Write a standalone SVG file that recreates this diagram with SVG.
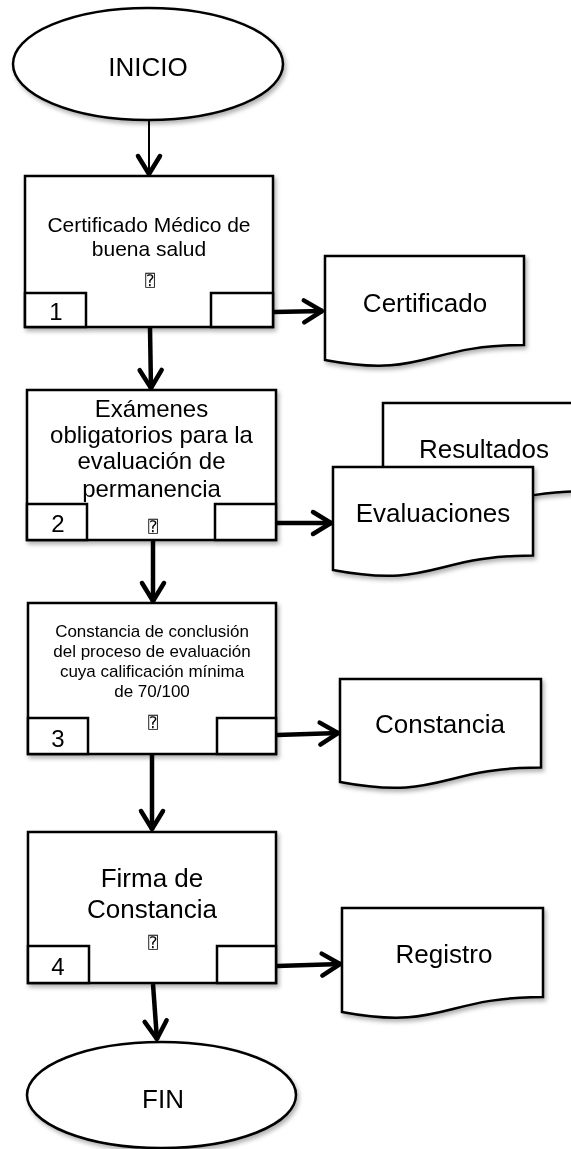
<svg xmlns="http://www.w3.org/2000/svg" width="571" height="1149" viewBox="0 0 571 1149">
<style>
  .shape { fill: #fff; stroke: #000; stroke-width: 2.5; }
  .t { font-family: "Liberation Sans", Arial, sans-serif; fill: #000; text-anchor: middle; }
  .q { font-family: "DejaVu Sans", "DejaVu Sans Mono", sans-serif; font-size: 16px; fill: #000; text-anchor: middle; }
  .thin { stroke: #000; stroke-width: 2; fill: none; marker-end: url(#chev); }
  .thick { stroke: #000; stroke-width: 4.5; fill: none; marker-end: url(#chev); }
</style>
<defs>
  <filter id="sh" x="-10%" y="-10%" width="125%" height="130%">
    <feDropShadow dx="2" dy="3" stdDeviation="2.2" flood-color="#000" flood-opacity="0.3"/>
  </filter>
  <marker id="chev" viewBox="-24 -16 28 32" refX="0" refY="0" markerWidth="28" markerHeight="32" markerUnits="userSpaceOnUse" orient="auto">
    <path d="M-19,-11 L-1,0 L-19,11" fill="none" stroke="#000" stroke-width="4.5" stroke-linecap="round" stroke-linejoin="round"/>
  </marker>
</defs>

<g id="connectors">
  <line class="thin" x1="149" y1="120" x2="149" y2="175"/>
  <line class="thick" x1="150" y1="328" x2="151" y2="389"/>
  <line class="thick" x1="153" y1="541" x2="153" y2="602"/>
  <line class="thick" x1="152" y1="755" x2="152" y2="830"/>
  <line class="thick" x1="153" y1="984" x2="157" y2="1040"/>
  <line class="thick" x1="274" y1="312" x2="323" y2="311"/>
  <line class="thick" x1="277" y1="523" x2="332" y2="523"/>
  <line class="thick" x1="277" y1="735" x2="339" y2="733"/>
  <line class="thick" x1="277" y1="966" x2="341" y2="964"/>
</g>

<g id="inicio" filter="url(#sh)">
  <ellipse class="shape" cx="148" cy="64" rx="135" ry="56"/>
  <text class="t" x="148" y="76" font-size="26">INICIO</text>
</g>

<g id="paso1" filter="url(#sh)">
  <rect class="shape" x="25" y="176" width="248" height="151"/>
  <rect class="shape" x="25" y="293" width="61" height="34"/>
  <rect class="shape" x="211" y="293" width="62" height="34"/>
  <text class="t" x="149" y="232" font-size="21">Certificado Médico de</text>
  <text class="t" x="149" y="256" font-size="21">buena salud</text>
  <text class="q" x="150" y="286">⍰</text>
  <text class="t" x="56" y="320" font-size="24">1</text>
</g>

<g id="doc-certificado" filter="url(#sh)">
  <path class="shape" d="M325,256 H524 V345 C424.5,345 424.5,379 325,360 Z"/>
  <text class="t" x="425" y="312" font-size="26">Certificado</text>
</g>

<g id="paso2" filter="url(#sh)">
  <rect class="shape" x="27" y="390" width="249" height="150"/>
  <rect class="shape" x="27" y="504" width="60" height="36"/>
  <rect class="shape" x="215" y="504" width="61" height="36"/>
  <text class="t" x="151.5" y="417" font-size="24">Exámenes</text>
  <text class="t" x="151.5" y="443" font-size="24">obligatorios para la</text>
  <text class="t" x="151.5" y="469" font-size="24">evaluación de</text>
  <text class="t" x="151.5" y="497" font-size="24">permanencia</text>
  <text class="q" x="153" y="532">⍰</text>
  <text class="t" x="58" y="532" font-size="24">2</text>
</g>

<g id="doc-resultados" filter="url(#sh)">
  <path class="shape" d="M383,403 H590 V491 C486.5,491 486.5,525 383,506 Z"/>
  <text class="t" x="484" y="458" font-size="26">Resultados</text>
</g>

<g id="doc-evaluaciones" filter="url(#sh)">
  <path class="shape" d="M333,467 H533 V555.5 C433,555.5 433,589 333,570 Z"/>
  <text class="t" x="433" y="522" font-size="26">Evaluaciones</text>
</g>

<g id="paso3" filter="url(#sh)">
  <rect class="shape" x="28" y="603" width="248" height="151"/>
  <rect class="shape" x="28" y="718" width="60" height="36"/>
  <rect class="shape" x="217" y="718" width="59" height="36"/>
  <text class="t" x="152" y="637" font-size="17">Constancia de conclusión</text>
  <text class="t" x="152" y="657" font-size="17">del proceso de evaluación</text>
  <text class="t" x="152" y="677" font-size="17">cuya calificación mínima</text>
  <text class="t" x="152" y="697" font-size="17">de 70/100</text>
  <text class="q" x="153" y="728">⍰</text>
  <text class="t" x="58" y="747" font-size="24">3</text>
</g>

<g id="doc-constancia" filter="url(#sh)">
  <path class="shape" d="M340,679 H541 V767.5 C440.5,767.5 440.5,801 340,782 Z"/>
  <text class="t" x="440" y="733" font-size="26">Constancia</text>
</g>

<g id="paso4" filter="url(#sh)">
  <rect class="shape" x="28" y="832" width="248" height="151"/>
  <rect class="shape" x="28" y="946" width="61" height="37"/>
  <rect class="shape" x="217" y="946" width="59" height="37"/>
  <text class="t" x="152" y="887" font-size="26">Firma de</text>
  <text class="t" x="152" y="918" font-size="26">Constancia</text>
  <text class="q" x="153" y="948">⍰</text>
  <text class="t" x="58" y="975" font-size="24">4</text>
</g>

<g id="doc-registro" filter="url(#sh)">
  <path class="shape" d="M342,908 H543 V997 C442.5,997 442.5,1031 342,1012 Z"/>
  <text class="t" x="444" y="963" font-size="26">Registro</text>
</g>

<g id="fin" filter="url(#sh)">
  <ellipse class="shape" cx="161.5" cy="1095" rx="134.5" ry="53"/>
  <text class="t" x="163" y="1108" font-size="26">FIN</text>
</g>
</svg>
